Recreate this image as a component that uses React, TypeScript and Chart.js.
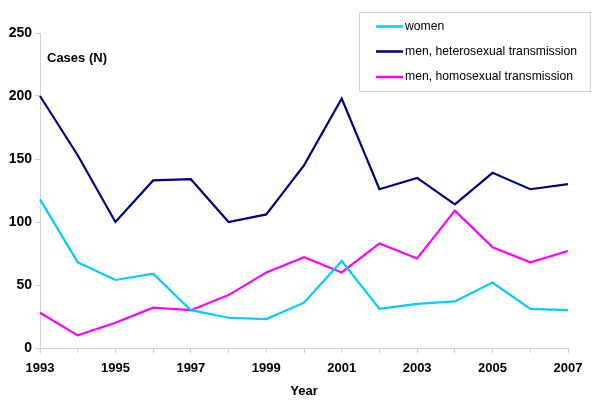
import React, { useEffect, useRef } from "react";
import { Chart, registerables } from "chart.js";

Chart.register(...registerables);

const years = ["1993","1994","1995","1996","1997","1998","1999","2000","2001","2002","2003","2004","2005","2006","2007"];
const women = [118, 68, 54, 59, 30, 24, 23, 36, 69, 31, 35, 37, 52, 31, 30];
const menHetero = [200, 153, 100, 133, 134, 100, 106, 145, 198, 126, 135, 114, 139, 126, 130];
const menHomo = [28, 10, 20, 32, 30, 42, 60, 72, 60, 83, 71, 109, 80, 68, 77];
const seriesNames = ["women", "men, heterosexual transmission", "men, homosexual transmission"];
const seriesColors = ["#00CCFF", "#000080", "#FF00FF"];
const yTicks = [0, 50, 100, 150, 200, 250];

const FONT = "Arial, 'Liberation Sans', sans-serif";

const overlayPlugin = {
  id: "overlay",
  afterDraw(chart: any) {
    const ctx = chart.ctx;
    ctx.save();
    // "Cases (N)" label
    ctx.fillStyle = "#000";
    ctx.font = `bold 13px ${FONT}`;
    ctx.textBaseline = "middle";
    ctx.textAlign = "left";
    ctx.fillText("Cases (N)", 47, 58);
    // Legend box
    ctx.strokeStyle = "#d4d4d4";
    ctx.lineWidth = 1;
    ctx.fillStyle = "#fff";
    ctx.fillRect(359.5, 12.5, 231, 79);
    ctx.strokeRect(359.5, 12.5, 231, 79);
    const rows = [26.5, 51.5, 77];
    chart.data.datasets.forEach((ds: any, i: number) => {
      ctx.strokeStyle = ds.borderColor;
      ctx.lineWidth = 2.5;
      ctx.beginPath();
      ctx.moveTo(376, rows[i]);
      ctx.lineTo(403, rows[i]);
      ctx.stroke();
      ctx.fillStyle = "#000";
      ctx.font = `12.2px ${FONT}`;
      ctx.textBaseline = "middle";
      ctx.fillText(ds.label, 405, rows[i]);
    });
    ctx.restore();
  },
};

export default function App() {
  const ref = useRef<HTMLCanvasElement>(null);
  useEffect(() => {
    document.body.style.margin = "0";
    const chart = new Chart(ref.current!, {
      type: "line",
      data: {
        labels: years,
        datasets: [women, menHetero, menHomo].map((d, i) => ({
          label: seriesNames[i],
          data: d,
          borderColor: seriesColors[i],
          backgroundColor: seriesColors[i],
          borderWidth: 2.2,
          pointRadius: 0,
          tension: 0,
          fill: false,
        })),
      },
      options: {
        responsive: false,
        animation: false,
        layout: { padding: { top: 33, right: 32, left: 0, bottom: 0 } },
        plugins: { legend: { display: false }, tooltip: { enabled: false } },
        scales: {
          x: {
            type: "category",
            offset: false,
            grid: { drawOnChartArea: false, tickLength: 5, color: "#d0d0d0" },
            border: { color: "#d0d0d0" },
            ticks: {
              autoSkip: false,
              maxRotation: 0,
              padding: 8,
              color: "#000",
              font: { family: FONT, size: 13, weight: "bold" },
              callback: (v: any, i: number) => (i % 2 === 0 ? years[i] : ""),
            },
            title: {
              display: true,
              text: "Year",
              color: "#000",
              font: { family: FONT, size: 13, weight: "bold" },
              padding: { top: 0, bottom: 17 },
            },
            afterFit: (s: any) => { s.height = 68; },
          },
          y: {
            min: 0,
            max: 250,
            afterBuildTicks: (s: any) => { s.ticks = yTicks.map((v) => ({ value: v })); },
            grid: { drawOnChartArea: false, tickLength: 5, color: "#d0d0d0" },
            border: { color: "#d0d0d0" },
            ticks: {
              padding: 3,
              color: "#000",
              font: { family: FONT, size: 14, weight: "bold" },
            },
            afterFit: (s: any) => { s.width = 40; },
          },
        },
      },
      plugins: [overlayPlugin],
    });
    return () => chart.destroy();
  }, []);
  return <canvas ref={ref} width={600} height={416} />;
}
